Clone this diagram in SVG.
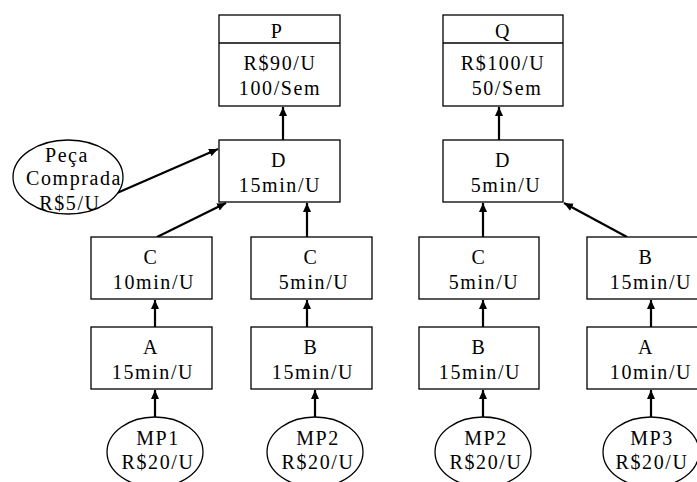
<svg xmlns="http://www.w3.org/2000/svg" width="697" height="482" viewBox="0 0 697 482">
<defs>
<marker id="ah" markerUnits="userSpaceOnUse" markerWidth="10" markerHeight="10" refX="9" refY="4" orient="auto">
<path d="M0,0 L9,4 L0,8 Z" fill="#000"/>
</marker>
<style>
rect,ellipse,line.d{fill:#fff;stroke:#000;stroke-width:1.3}
text{font-family:"Liberation Serif","Times New Roman",serif;font-size:20px;letter-spacing:1.6px;text-anchor:middle;fill:#000}
.c line{stroke:#000;stroke-width:2.2;marker-end:url(#ah)}
</style>
</defs>
<rect width="697" height="482" fill="#fff" style="stroke:none"/>
<g class="c" id="connectors">
<line x1="283" y1="140" x2="283" y2="107"/>
<line x1="499" y1="140" x2="499" y2="107"/>
<line x1="117" y1="193" x2="218" y2="149"/>
<line x1="157" y1="237" x2="226" y2="203"/>
<line x1="307" y1="237" x2="307" y2="203"/>
<line x1="155" y1="327" x2="155" y2="300"/>
<line x1="307" y1="327" x2="307" y2="300"/>
<line x1="155" y1="417" x2="155" y2="390"/>
<line x1="315" y1="417" x2="315" y2="390"/>
<line x1="483" y1="237" x2="483" y2="203"/>
<line x1="627" y1="237" x2="564" y2="203"/>
<line x1="483" y1="327" x2="483" y2="300"/>
<line x1="651" y1="327" x2="651" y2="300"/>
<line x1="483" y1="417" x2="483" y2="390"/>
<line x1="651" y1="417" x2="651" y2="390"/>
</g>
<g id="P">
<rect x="219" y="15" width="121" height="91"/>
<line class="d" x1="219" y1="43" x2="340" y2="43"/>
<text x="277" y="38">P</text>
<text x="280" y="70">R$90/U</text>
<text x="280" y="95">100/Sem</text>
</g>
<g id="Q">
<rect x="443" y="15" width="120" height="91"/>
<line class="d" x1="443" y1="43" x2="563" y2="43"/>
<text x="503" y="38">Q</text>
<text x="503" y="70">R$100/U</text>
<text x="507" y="95">50/Sem</text>
</g>
<g id="D1">
<rect x="219" y="140" width="121" height="62"/>
<text x="279" y="167">D</text>
<text x="280" y="192">15min/U</text>
</g>
<g id="D2">
<rect x="443" y="140" width="120" height="62"/>
<text x="503" y="167">D</text>
<text x="506" y="192">5min/U</text>
</g>
<g id="PC">
<ellipse cx="68" cy="177" rx="55" ry="37"/>
<text x="67" y="162">Peça</text>
<text x="74" y="185">Comprada</text>
<text x="70" y="210">R$5/U</text>
</g>
<g id="C1">
<rect x="91" y="237" width="121" height="62"/>
<text x="151" y="264">C</text>
<text x="154" y="289">10min/U</text>
</g>
<g id="C2">
<rect x="251" y="237" width="121" height="62"/>
<text x="311" y="264">C</text>
<text x="314" y="289">5min/U</text>
</g>
<g id="C3">
<rect x="419" y="237" width="120" height="62"/>
<text x="479" y="264">C</text>
<text x="484" y="289">5min/U</text>
</g>
<g id="B3">
<rect x="587" y="237" width="121" height="62"/>
<text x="646" y="264">B</text>
<text x="651" y="289">15min/U</text>
</g>
<g id="A1">
<rect x="91" y="327" width="121" height="62"/>
<text x="151" y="354">A</text>
<text x="153" y="379">15min/U</text>
</g>
<g id="B1">
<rect x="251" y="327" width="121" height="62"/>
<text x="311" y="354">B</text>
<text x="313" y="379">15min/U</text>
</g>
<g id="B2">
<rect x="419" y="327" width="120" height="62"/>
<text x="479" y="354">B</text>
<text x="480" y="379">15min/U</text>
</g>
<g id="A3">
<rect x="587" y="327" width="121" height="62"/>
<text x="646" y="354">A</text>
<text x="651" y="379">10min/U</text>
</g>
<g id="MP1">
<ellipse cx="155" cy="452" rx="48" ry="35"/>
<text x="158" y="445">MP1</text>
<text x="158" y="469">R$20/U</text>
</g>
<g id="MP2a">
<ellipse cx="315" cy="452" rx="48" ry="35"/>
<text x="318" y="445">MP2</text>
<text x="318" y="469">R$20/U</text>
</g>
<g id="MP2b">
<ellipse cx="483" cy="452" rx="48" ry="35"/>
<text x="486" y="445">MP2</text>
<text x="486" y="469">R$20/U</text>
</g>
<g id="MP3">
<ellipse cx="651" cy="452" rx="48" ry="35"/>
<text x="652" y="445">MP3</text>
<text x="652" y="469">R$20/U</text>
</g>
</svg>
